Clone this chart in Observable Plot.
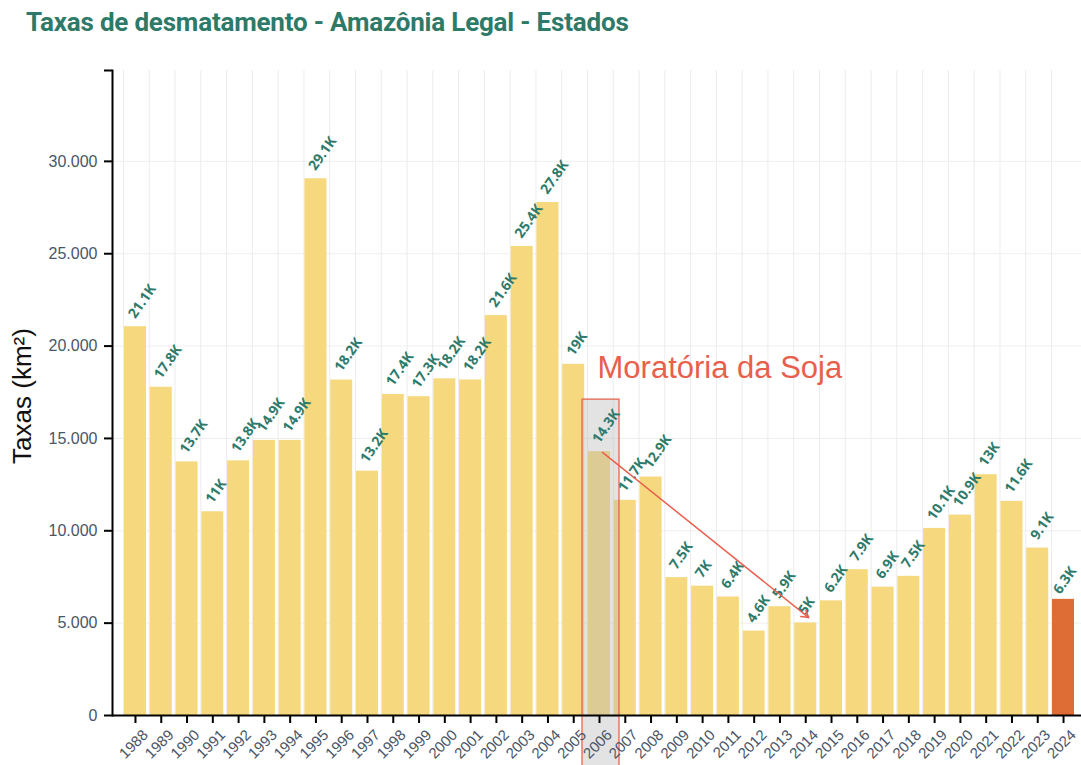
<!DOCTYPE html>
<html><head><meta charset="utf-8">
<script src="https://cdn.jsdelivr.net/npm/d3@7"></script>
<script src="https://cdn.jsdelivr.net/npm/@observablehq/plot@0.6"></script>
<style>
body{margin:0;background:#fff;font-family:"Liberation Sans",Arial,sans-serif;}
#title{height:50px;box-sizing:border-box;padding:6px 0 0 26px;font-family:Roboto,sans-serif;font-weight:700;font-size:26px;line-height:32px;color:#2e7a68;letter-spacing:-0.2px;}
</style></head><body>
<div id="title">Taxas de desmatamento - Amazônia Legal - Estados</div>
<div id="chart"></div>
<script>
const years = ["1988","1989","1990","1991","1992","1993","1994","1995","1996","1997","1998","1999","2000","2001","2002","2003","2004","2005","2006","2007","2008","2009","2010","2011","2012","2013","2014","2015","2016","2017","2018","2019","2020","2021","2022","2023","2024"];
const values = [21050,17770,13730,11030,13786,14896,14896,29059,18161,13227,17383,17259,18226,18165,21650,25396,27772,19014,14286,11651,12911,7464,7000,6418,4571,5891,5012,6207,7893,6947,7536,10129,10851,13038,11594,9064,6288];
const highlightYear = "2024";
const yTicks = [0,5000,10000,15000,20000,25000,30000];
const yMax = 34920;
const annotYear = "2006";
const annotTop = 17100;
const annotBottom = -2800;
const annotText = "Moratória da Soja";
const annotTextY = 18800;
const arrowFrom = {year:"2006", value:14250};
const arrowTo = {year:"2014", value:5300};

const data = years.map((y,i)=>({year:y, value:values[i]}));
const ptBR = d3.formatLocale({decimal:",", thousands:".", grouping:[3], currency:["R$",""]});
const fmtAxis = ptBR.format(",");
const fmtK = v => (v/1000).toFixed(1).replace(/\.0$/,"") + "K";

const teal = "#2e7a6b";
const red = "#e8604c";
const tickGray = "#4a5568";
const labelStyle = {x: "year", y: "value", text: d => fmtK(d.value), rotate: -55, textAnchor: "start", fill: teal, fontWeight: 700, fontSize: 14, fontFamily: "'Open Sans', sans-serif"};

const chart = Plot.plot({
  width: 1081,
  height: 715,
  marginTop: 20,
  marginLeft: 112,
  marginRight: 0,
  marginBottom: 50,
  style: {fontFamily: "'Liberation Sans', Arial, sans-serif", fontSize: "15px", background: "white", overflow: "visible"},
  x: {domain: years, range: [112, 1086], paddingInner: 0.147, paddingOuter: 0.465, round: false, label: null},
  y: {domain: [0, yMax], label: null},
  marks: [
    Plot.ruleY(yTicks, {stroke: "#efefef"}),
    Plot.ruleX(years, {x: d => d, dx: -12, stroke: "#ececec"}),
    Plot.barY(data.filter(d => d.year !== highlightYear), {x: "year", y: "value", fill: "#f6d87e"}),
    Plot.barY(data.filter(d => d.year === highlightYear), {x: "year", y: "value", fill: "#de6d35"}),
    Plot.barY([annotYear], {x: d => d, y1: annotBottom, y2: annotTop, fill: "#b9b9b9", fillOpacity: 0.4, stroke: red, strokeWidth: 1.5, strokeOpacity: 0.85, insetLeft: -6, insetRight: -9}),
    Plot.text(data.filter(d => d.year !== highlightYear), {...labelStyle, dx: -4, dy: -10}),
    Plot.text(data.filter(d => d.year === highlightYear), {...labelStyle, dx: -7, dy: -7}),
    Plot.text([annotText], {x: () => annotYear, y: () => annotTextY, text: d => d, textAnchor: "start", dx: -2, fill: red, fontSize: 31, fontFamily: "'Liberation Sans', Arial, sans-serif"}),
    Plot.arrow([{a: arrowFrom, b: arrowTo}], {x1: d => d.a.year, y1: d => d.a.value, x2: d => d.b.year, y2: d => d.b.value, stroke: red, strokeWidth: 1.5, headLength: 8, dx: 3}),
    Plot.ruleY([0], {stroke: "#000", strokeWidth: 2}),
    Plot.frame({anchor: "left", stroke: "#000", strokeWidth: 2}),
    Plot.axisY({ticks: yTicks, tickFormat: fmtAxis, tickSize: 8, tickPadding: 7, fontSize: 16, stroke: "#000", strokeWidth: 2, fill: tickGray, label: null}),
    Plot.axisY({ticks: [yMax], tickFormat: () => "", tickSize: 8, stroke: "#000", strokeWidth: 2, label: null}),
    Plot.axisX({text: null, tickSize: 8, stroke: "#000", strokeWidth: 2, label: null}),
    Plot.text(years, {x: d => d, frameAnchor: "bottom", text: d => d, rotate: -45, textAnchor: "end", lineAnchor: "middle", dx: 10, dy: 17, fontSize: 15, fill: tickGray}),
    Plot.text(["Taxas (km²)"], {frameAnchor: "left", rotate: -90, textAnchor: "middle", dx: -90, dy: 3, fontSize: 26, fill: "#111", text: d => d})
  ]
});
document.getElementById("chart").appendChild(chart);
</script>
</body></html>
